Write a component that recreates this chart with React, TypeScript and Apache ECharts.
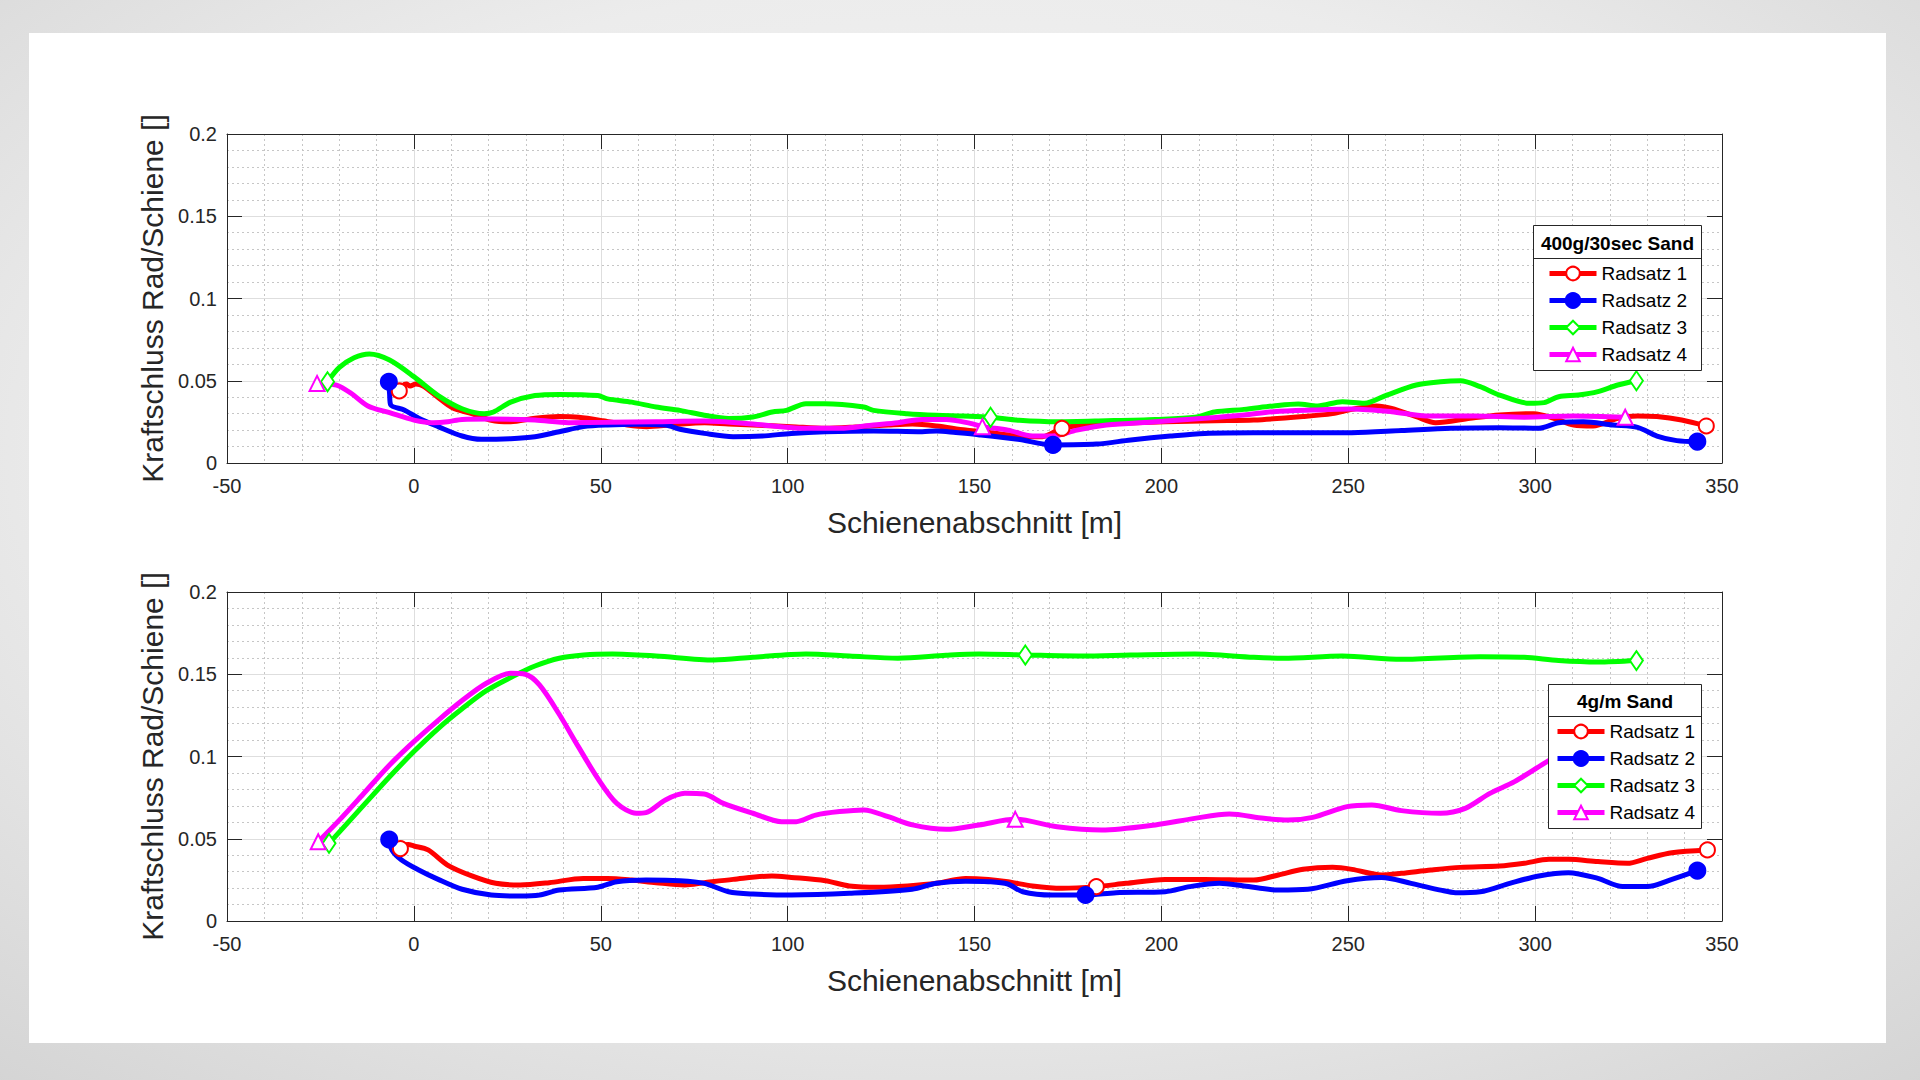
import React, { useEffect, useRef } from "react";
import * as echarts from "echarts";

// Axis ranges (shared by both panels)
const X_MIN = -50;
const X_MAX = 350;
const X_STEP = 50;
const Y_MIN = 0;
const Y_MAX = 0.2;
const Y_STEP = 0.05;

const xAxisTitle = "Schienenabschnitt [m]";
const yAxisTitle = "Kraftschluss Rad/Schiene []";
const panelTitles = ["400g/30sec Sand", "4g/m Sand"];
const seriesNames = ["Radsatz 1", "Radsatz 2", "Radsatz 3", "Radsatz 4"];
const seriesColors = ["#ff0000", "#0000ff", "#00ff00", "#ff00ff"];
const seriesSymbols = ["emptyCircle", "circle", "emptyDiamond", "emptyTriangle"];

// Panel 1: 400g/30sec Sand — [position m, adhesion]
const topR1: [number, number][] = [
  [-3.9, 0.0438], [-3, 0.047], [-2, 0.048], [-1, 0.0468], [0.5, 0.048], [2.5, 0.0468],
  [6.4, 0.04], [10.3, 0.0336], [15.5, 0.03], [20.7, 0.026], [25.9, 0.0251], [32.4, 0.0272],
  [38.9, 0.0282], [44.1, 0.0278], [50.6, 0.0257], [57.1, 0.0231], [62.3, 0.0221], [68.8, 0.0231],
  [77.8, 0.0245], [84.2, 0.0237], [90.7, 0.0231], [101, 0.0221], [110.1, 0.0211], [119.2, 0.0221],
  [127, 0.0231], [133.4, 0.0237], [139.9, 0.0225], [147.6, 0.02], [152.4, 0.019], [161.6, 0.0164],
  [168.2, 0.016], [173.4, 0.0211], [180, 0.0231], [189.2, 0.0241], [201, 0.0251], [214.2, 0.0257],
  [224.7, 0.0261], [237.9, 0.0282], [245.8, 0.03], [251, 0.0326], [257.6, 0.0347], [261.6, 0.0332],
  [268.2, 0.0282], [273.4, 0.0245], [282.6, 0.0272], [290.5, 0.0292], [299.7, 0.03], [305, 0.0272],
  [310.3, 0.0231], [315.5, 0.0225], [322.1, 0.0272], [327.4, 0.0286], [332.6, 0.0282], [339.2, 0.0261],
  [345.8, 0.0225],
];
const topR2: [number, number][] = [
  [-6.7, 0.0494], [-6.5, 0.042], [-6.2, 0.0353], [-2.6, 0.0322], [1.3, 0.0272], [6.5, 0.0221],
  [12.9, 0.0164], [18.1, 0.0144], [25.9, 0.0148], [32.4, 0.016], [38.9, 0.019], [45.4, 0.0221],
  [51.8, 0.0231], [59.6, 0.0235], [67.3, 0.0231], [71.2, 0.0205], [77.7, 0.018], [85.4, 0.016],
  [93.2, 0.0164], [101, 0.018], [110.1, 0.019], [123, 0.0195], [136, 0.019], [139.9, 0.0195],
  [145, 0.0185], [151, 0.0172], [161.6, 0.0144], [171, 0.011], [182.6, 0.0115], [191.8, 0.014],
  [202.4, 0.0164], [211.6, 0.018], [224.7, 0.0184], [237.9, 0.0184], [251, 0.0184], [264.2, 0.0197],
  [277.4, 0.0211], [290.5, 0.0215], [301, 0.0211], [306.3, 0.0245], [312.9, 0.0251], [320.8, 0.0231],
  [327.4, 0.0217], [332.6, 0.0164], [337.9, 0.0136], [343.4, 0.013],
];
const topR3: [number, number][] = [
  [-23.1, 0.0494], [-20, 0.058], [-16, 0.064], [-11.9, 0.0663], [-6.5, 0.0626], [0, 0.0525],
  [6.5, 0.041], [12.9, 0.033], [18.8, 0.03], [21.3, 0.031], [25.9, 0.037], [32.4, 0.041],
  [38.9, 0.0417], [49.2, 0.041], [51.8, 0.039], [58.3, 0.037], [64.8, 0.034], [71.2, 0.032],
  [77.7, 0.029], [84.2, 0.027], [90.7, 0.028], [95.9, 0.031], [99.7, 0.032], [104.9, 0.036],
  [110, 0.036], [120.4, 0.034], [123, 0.032], [132, 0.03], [139.8, 0.029], [147, 0.0285],
  [154.3, 0.0278], [162, 0.026], [172.1, 0.0251], [185.3, 0.0257], [198.4, 0.0265], [209, 0.0278],
  [214.2, 0.031], [222.1, 0.0326], [230, 0.0347], [236.6, 0.0359], [241.8, 0.0347], [248.4, 0.0373],
  [254.3, 0.0363], [260.3, 0.0413], [268.2, 0.0474], [274.7, 0.0494], [280, 0.05], [285.3, 0.0464],
  [290.5, 0.0413], [298.4, 0.0363], [302.4, 0.0367], [306.3, 0.0403], [311.6, 0.0413], [316.8, 0.0434],
  [322.1, 0.0474], [327.1, 0.05],
];
const topR4: [number, number][] = [
  [-25.9, 0.0484], [-20.7, 0.0474], [-16.8, 0.0424], [-12.3, 0.0347], [-6.5, 0.0306], [0, 0.0261],
  [5.2, 0.0245], [9.1, 0.0251], [12.9, 0.0265], [20.7, 0.0267], [32.4, 0.0261], [41.4, 0.0245],
  [51.8, 0.0247], [64.8, 0.0251], [77.7, 0.0255], [90.7, 0.0237], [103.6, 0.0211], [114, 0.0211],
  [123, 0.0231], [129.5, 0.0245], [136, 0.0265], [142.4, 0.0265], [148.9, 0.0241], [152.1, 0.0221],
  [159, 0.02], [165.5, 0.0164], [170.8, 0.0164], [177.4, 0.02], [185.3, 0.0231], [198.4, 0.0251],
  [211.6, 0.0272], [222.1, 0.0292], [230, 0.0312], [240.5, 0.0322], [251, 0.0328], [261.6, 0.0312],
  [270.8, 0.0286], [283.9, 0.0286], [297.1, 0.0278], [310.3, 0.0286], [324.1, 0.0278],
];

// Panel 2: 4g/m Sand
const botR1: [number, number][] = [
  [-3.6, 0.044], [-3, 0.0458], [-1.5, 0.0465], [0, 0.0456], [3.8, 0.0432], [9, 0.034],
  [15.5, 0.0274], [21.9, 0.0229], [28.4, 0.0219], [36.2, 0.0233], [45.3, 0.0259], [51.8, 0.0259],
  [58.3, 0.0249], [64.8, 0.0233], [72.5, 0.0219], [77.7, 0.0233], [85.4, 0.0253], [95.8, 0.0274],
  [101, 0.0265], [110.1, 0.0245], [116.5, 0.0213], [124.3, 0.0205], [132.1, 0.0213], [139.8, 0.0229],
  [147.6, 0.0259], [153.7, 0.0253], [158.9, 0.0239], [165.5, 0.0213], [173.4, 0.0199], [182.6, 0.0209],
  [190.5, 0.0229], [201, 0.0253], [211.6, 0.0253], [224.7, 0.0249], [231.3, 0.028], [237.9, 0.0314],
  [245.8, 0.0326], [251, 0.0314], [258.9, 0.028], [264.2, 0.029], [272.1, 0.031], [280, 0.0326],
  [290.5, 0.0334], [297.1, 0.0351], [303.7, 0.0375], [308.9, 0.0375], [316.8, 0.0361], [324.7, 0.0351],
  [330, 0.0381], [336.6, 0.0415], [346.1, 0.0432],
];
const botR2: [number, number][] = [
  [-6.6, 0.0495], [-5.9, 0.0432], [-3.3, 0.0371], [1.3, 0.031], [6.5, 0.0253], [12.9, 0.0193],
  [20.7, 0.0158], [28.4, 0.0152], [33.6, 0.0158], [38.9, 0.0188], [49.2, 0.0205], [54.3, 0.0239],
  [62.1, 0.0249], [71.2, 0.0245], [77.7, 0.0229], [84.2, 0.0178], [90.7, 0.0164], [101, 0.0158],
  [116.5, 0.0168], [133.3, 0.0193], [139.8, 0.0229], [147.6, 0.0242], [153.7, 0.0239], [158.9, 0.0225],
  [162.9, 0.0178], [170.8, 0.0158], [179.7, 0.0158], [187.9, 0.0172], [201, 0.0178], [207.6, 0.0209],
  [215.5, 0.0229], [222.1, 0.0213], [231.3, 0.0188], [239.2, 0.0193], [249.7, 0.0245], [258.9, 0.0265],
  [266.8, 0.0229], [274.7, 0.0188], [278.7, 0.0172], [285.3, 0.0178], [293.2, 0.0229], [301, 0.0274],
  [308.9, 0.0294], [316.8, 0.0259], [323.4, 0.0209], [330, 0.0209], [336.6, 0.0253], [343.4, 0.0306],
];
const botR3: [number, number][] = [
  [-22.7, 0.0472], [-18.2, 0.0584], [-13, 0.0715], [-6.5, 0.0877], [0, 0.103], [6.5, 0.117],
  [12.9, 0.129], [19.4, 0.14], [27.2, 0.1495], [32.4, 0.155], [38.9, 0.1597], [45.4, 0.1617],
  [53.1, 0.1623], [64.8, 0.1611], [80.3, 0.1587], [90.7, 0.1603], [104.9, 0.1623], [116.5, 0.1611],
  [129.5, 0.1597], [142.4, 0.1615], [151.2, 0.1623], [163.6, 0.1617], [178.7, 0.1611], [191.8, 0.1617],
  [208.9, 0.1623], [224.7, 0.1603], [232.6, 0.1597], [248.4, 0.1611], [264.2, 0.1591], [285.3, 0.1607],
  [297.1, 0.1603], [306.3, 0.1583], [316.8, 0.1574], [327.1, 0.1583],
];
const botR4: [number, number][] = [
  [-25.6, 0.0482], [-19.5, 0.0624], [-13, 0.0786], [-6.5, 0.0948], [0, 0.109], [6.5, 0.122],
  [12.9, 0.134], [19.4, 0.1445], [25.9, 0.1506], [29.8, 0.15], [33.6, 0.1435], [38.8, 0.126],
  [44, 0.106], [49.2, 0.0867], [54.3, 0.0715], [59.5, 0.0655], [62.1, 0.0659], [67.3, 0.0736],
  [72.5, 0.0776], [77.7, 0.0772], [82.8, 0.0715], [90.7, 0.0655], [98.4, 0.0604], [102.3, 0.0604],
  [107.5, 0.0644], [113.9, 0.0665], [120.4, 0.0675], [126.9, 0.0634], [133.4, 0.0584], [142.4, 0.0557],
  [151.2, 0.0584], [160.9, 0.0618], [172.1, 0.0573], [184, 0.0553], [198.4, 0.0584], [208.9, 0.0624],
  [218.2, 0.065], [227.4, 0.0624], [233.9, 0.0614], [240.5, 0.063], [249.7, 0.0695], [256.3, 0.0705],
  [264.2, 0.0671], [274.7, 0.0655], [281.3, 0.0685], [287.9, 0.0776], [294.5, 0.0847], [302.4, 0.0958],
  [310, 0.106], [317, 0.113], [325, 0.118],
];

// Positions (m) at which each curve carries a marker: start, middle, end
const topMarks = [
  [-3.9, 173.4, 345.8],
  [-6.7, 171, 343.4],
  [-23.1, 154.3, 327.1],
  [-25.9, 152.1, 324.1],
];
const botMarks = [
  [-3.6, 182.6, 346.1],
  [-6.6, 179.7, 343.4],
  [-22.7, 163.6, 327.1],
  [-25.6, 160.9, 325],
];

const FONT = "'Liberation Sans', Arial, Helvetica, sans-serif";
const INK = "#262626";
const LINE_W = 5;

const grids = [
  { left: 227, top: 134, width: 1495, height: 329 },
  { left: 227, top: 592, width: 1495, height: 329 },
];

const legendBoxes = [
  { x: 1533.5, y: 225.5, w: 168, h: 145, sep: 258.5, itemLeft: 1547, itemTop: 264 },
  { x: 1548.5, y: 684.5, w: 153, h: 144, sep: 716.5, itemLeft: 1555, itemTop: 722 },
];

function buildOption() {
  const xAxes: any[] = [];
  const yAxes: any[] = [];
  grids.forEach((_, g) => {
    xAxes.push({
      gridIndex: g,
      type: "value",
      min: X_MIN,
      max: X_MAX,
      interval: X_STEP,
      position: "bottom",
      name: xAxisTitle,
      nameLocation: "middle",
      nameGap: 44,
      nameTextStyle: { fontSize: 30, color: INK, fontFamily: FONT },
      axisLine: { show: true, onZero: false, lineStyle: { color: INK, width: 1 } },
      axisTick: { show: true, inside: true, length: 15, lineStyle: { color: INK, width: 1 } },
      axisLabel: { margin: 13, fontSize: 20, color: INK, fontFamily: FONT },
      splitLine: { show: true, lineStyle: { color: "#dedede", width: 1 } },
      minorTick: { show: false, splitNumber: 5 },
      minorSplitLine: { show: true, lineStyle: { color: "#c6c6c6", width: 1, type: [2, 3] } },
    });
    xAxes.push({
      gridIndex: g,
      type: "value",
      min: X_MIN,
      max: X_MAX,
      interval: X_STEP,
      position: "top",
      axisLine: { show: true, onZero: false, lineStyle: { color: INK, width: 1 } },
      axisTick: { show: true, inside: true, length: 15, lineStyle: { color: INK, width: 1 } },
      axisLabel: { show: false },
      splitLine: { show: false },
    });
    yAxes.push({
      gridIndex: g,
      type: "value",
      min: Y_MIN,
      max: Y_MAX,
      interval: Y_STEP,
      position: "left",
      name: yAxisTitle,
      nameLocation: "middle",
      nameGap: 59,
      nameTextStyle: { fontSize: 30, color: INK, fontFamily: FONT },
      axisLine: { show: true, onZero: false, lineStyle: { color: INK, width: 1 } },
      axisTick: { show: true, inside: true, length: 15, lineStyle: { color: INK, width: 1 } },
      axisLabel: { margin: 10, fontSize: 20, color: INK, fontFamily: FONT },
      splitLine: { show: true, lineStyle: { color: "#dedede", width: 1 } },
      minorTick: { show: false, splitNumber: 5 },
      minorSplitLine: { show: true, lineStyle: { color: "#c6c6c6", width: 1, type: [2, 3] } },
    });
    yAxes.push({
      gridIndex: g,
      type: "value",
      min: Y_MIN,
      max: Y_MAX,
      interval: Y_STEP,
      position: "right",
      axisLine: { show: true, onZero: false, lineStyle: { color: INK, width: 1 } },
      axisTick: { show: true, inside: true, length: 15, lineStyle: { color: INK, width: 1 } },
      axisLabel: { show: false },
      splitLine: { show: false },
    });
  });

  const panels = [
    { data: [topR1, topR2, topR3, topR4], marks: topMarks },
    { data: [botR1, botR2, botR3, botR4], marks: botMarks },
  ];

  const series: any[] = [];
  panels.forEach((panel, g) => {
    panel.data.forEach((pts, i) => {
      const markIdx = new Set<number>();
      pts.forEach((p, k) => {
        if (panel.marks[i].includes(p[0])) markIdx.add(k);
      });
      const isDiamond = seriesSymbols[i] === "emptyDiamond";
      series.push({
        type: "line",
        name: seriesNames[i],
        xAxisIndex: g * 2,
        yAxisIndex: g * 2,
        data: pts,
        smooth: 0.3,
        symbol: seriesSymbols[i],
        showSymbol: true,
        showAllSymbol: true,
        symbolSize: (_v: any, params: any) =>
          markIdx.has(params.dataIndex) ? (isDiamond ? [13, 19] : 15) : 0,
        color: seriesColors[i],
        lineStyle: { color: seriesColors[i], width: LINE_W },
        itemStyle: { color: seriesColors[i], borderColor: seriesColors[i], borderWidth: 3 },
        emphasis: { disabled: true },
        z: 2,
      });
    });
  });

  const legends = legendBoxes.map((b) => ({
    orient: "vertical",
    left: b.itemLeft,
    top: b.itemTop,
    padding: 0,
    itemWidth: 47,
    itemHeight: 17,
    itemGap: 8,
    selectedMode: false,
    data: seriesNames,
    lineStyle: { width: LINE_W },
    itemStyle: { borderWidth: 3 },
    textStyle: { fontSize: 19, color: "#000", fontFamily: FONT },
    z: 10,
  }));

  const graphics: any[] = [];
  legendBoxes.forEach((b, i) => {
    graphics.push({
      type: "rect",
      z: 5,
      shape: { x: b.x, y: b.y, width: b.w, height: b.h },
      style: { fill: "#ffffff", stroke: INK, lineWidth: 1 },
    });
    graphics.push({
      type: "line",
      z: 6,
      shape: { x1: b.x, y1: b.sep, x2: b.x + b.w, y2: b.sep },
      style: { stroke: INK, lineWidth: 1 },
    });
    graphics.push({
      type: "text",
      z: 6,
      x: b.x + b.w / 2,
      y: (b.y + b.sep) / 2 + 1,
      style: {
        text: panelTitles[i],
        fontSize: 19,
        fontWeight: "bold",
        fontFamily: FONT,
        fill: "#000",
        align: "center",
        verticalAlign: "middle",
      },
    });
  });

  return {
    animation: false,
    backgroundColor: "transparent",
    textStyle: { fontFamily: FONT },
    grid: grids,
    xAxis: xAxes,
    yAxis: yAxes,
    legend: legends,
    graphic: graphics,
    series,
  };
}

export default function App() {
  const ref = useRef<HTMLDivElement>(null);

  useEffect(() => {
    if (!ref.current) return;
    const chart = echarts.init(ref.current, undefined, { renderer: "svg" });
    chart.setOption(buildOption() as any);
    return () => chart.dispose();
  }, []);

  return (
    <div
      style={{
        position: "fixed",
        left: 0,
        top: 0,
        width: 1920,
        height: 1080,
        overflow: "hidden",
        background:
          "radial-gradient(ellipse 80% 80% at 50% 42%, #f7f7f7 0%, #ececec 55%, #d2d2d2 100%)",
      }}
    >
      <div
        style={{
          position: "absolute",
          left: 29,
          top: 33,
          width: 1857,
          height: 1010,
          background: "#ffffff",
        }}
      />
      <div
        ref={ref}
        style={{ position: "absolute", left: 0, top: 0, width: 1920, height: 1080 }}
      />
    </div>
  );
}
